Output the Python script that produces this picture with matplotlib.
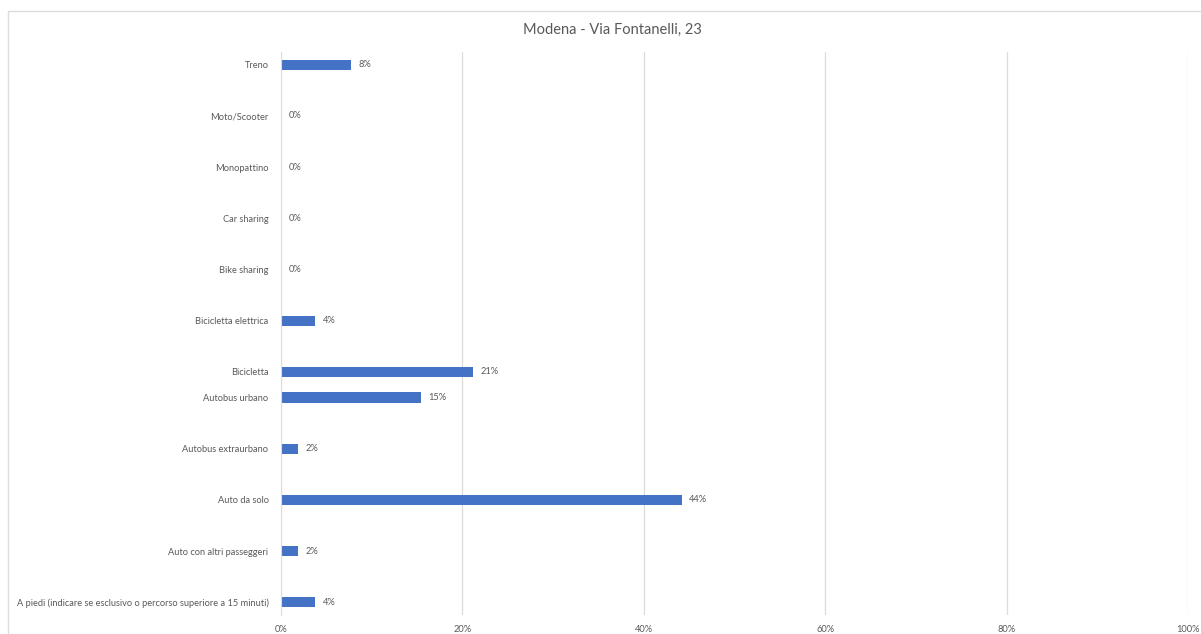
import numpy as np
import matplotlib.pyplot as plt
from matplotlib.patches import Rectangle

# categories bottom -> top; "" marks the empty rows of the source sheet
categories = [
    "A piedi (indicare se esclusivo o percorso superiore a 15 minuti)",
    "",
    "Auto con altri passeggeri",
    "",
    "Auto da solo",
    "",
    "Autobus extraurbano",
    "",
    "Autobus urbano",
    "Bicicletta",
    "",
    "Bicicletta elettrica",
    "",
    "Bike sharing",
    "",
    "Car sharing",
    "",
    "Monopattino",
    "",
    "Moto/Scooter",
    "",
    "Treno",
]
shares = [3.8, None, 1.9, None, 44.2, None, 1.9, None, 15.4, 21.2, None,
          3.8, None, 0, None, 0, None, 0, None, 0, None, 7.7]
x_ticks = [0, 20, 40, 60, 80, 100]

BAR = "#4472C4"
TXT = "#595959"
GRID = "#dcdcdc"

plt.rcParams["font.family"] = ["Lato", "DejaVu Sans"]

fig = plt.figure(figsize=(12.01, 6.34), dpi=100)
fig.patches.append(Rectangle((8 / 1201, -0.05), 1.0, 1.05 - 11 / 634,
                             transform=fig.transFigure, fill=False,
                             edgecolor=GRID, linewidth=1.0))

ax = fig.add_axes([281 / 1201, 1 - 615 / 634, 907 / 1201, 563 / 634])

pos = [i for i, c in enumerate(categories) if c]
vals = [shares[i] for i in pos]
ax.barh(pos, vals, height=0.4, color=BAR, zorder=3)
for p, v in zip(pos, vals):
    ax.text(v + 0.8, p, f"{v:.0f}%", va="center", ha="left",
            fontsize=6.7, color=TXT)

ax.set_xlim(0, 100)
ax.set_ylim(-0.5, len(categories) - 0.5)
ax.set_xticks(x_ticks)
ax.set_xticklabels([f"{t}%" for t in x_ticks], fontsize=6.7, color=TXT)
ax.set_yticks(range(len(categories)))
ax.set_yticklabels(categories, fontsize=6.7, color=TXT)
ax.tick_params(length=0, pad=7)
ax.tick_params(axis="y", pad=9)

ax.grid(axis="x", color=GRID, linewidth=0.9, zorder=0)
for s in ["top", "right", "bottom"]:
    ax.spines[s].set_visible(False)
ax.spines["left"].set_color(GRID)
ax.spines["left"].set_zorder(4)

fig.text(0.51, 1 - 30 / 634, "Modena - Via Fontanelli, 23", ha="center",
         va="center", fontsize=10.5, color=TXT)

fig.savefig("out.png", dpi=100)
